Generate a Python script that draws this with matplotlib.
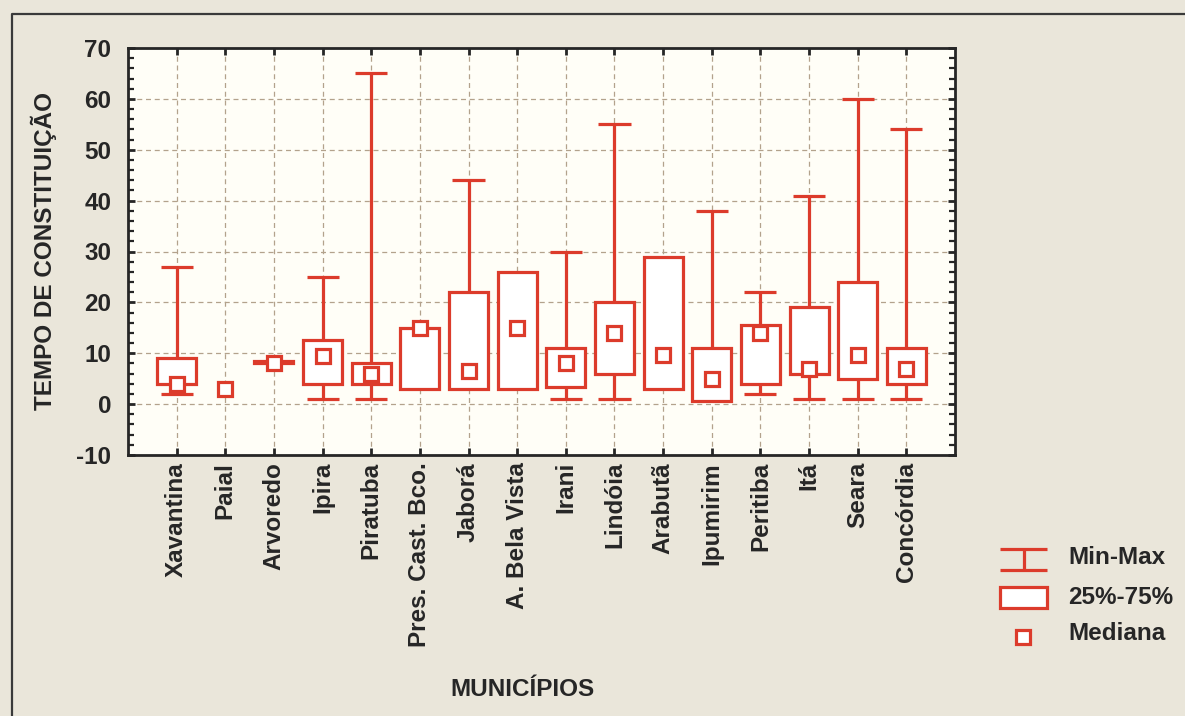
import matplotlib
matplotlib.use("Agg")
import matplotlib.pyplot as plt
from matplotlib.patches import Rectangle
from matplotlib.ticker import MultipleLocator

plt.rcParams['font.family'] = ['Liberation Sans', 'DejaVu Sans']

# Tempo de constituição por município
municipios = ["Xavantina", "Paial", "Arvoredo", "Ipira", "Piratuba",
              "Pres. Cast. Bco.", "Jaborá", "A. Bela Vista", "Irani", "Lindóia",
              "Arabutã", "Ipumirim", "Peritiba", "Itá", "Seara", "Concórdia"]
minimo = [2, 3, 8, 1, 1, 3, 3, 3, 1, 1, 3, 0.7, 2, 1, 1, 1]
q25 = [4, 3, 8, 4, 4, 3, 3, 3, 3.3, 6, 3, 0.7, 4, 6, 5, 4]
mediana = [4, 3, 8, 9.4, 6, 15, 6.5, 15, 8, 14, 9.6, 5, 14, 7, 9.6, 7]
q75 = [9, 3, 8.4, 12.6, 8, 15, 22, 26, 11, 20, 29, 11, 15.6, 19, 24, 11]
maximo = [27, 3, 8.4, 25, 65, 15, 44, 26, 30, 55, 29, 38, 22, 41, 60, 54]
y_ticks = [-10, 0, 10, 20, 30, 40, 50, 60, 70]

RED = "#dc3b2b"
INK = "#262626"
W, H = 1185, 716

fig = plt.figure(figsize=(W / 100, H / 100), dpi=100)
fig.patch.set_facecolor("#eae6da")

# frame lines drawn in pixel units behind everything
ov = fig.add_axes([0, 0, 1, 1], zorder=-1)
ov.set_xlim(0, W)
ov.set_ylim(H, 0)
ov.axis("off")
ov.plot([12, 12, W], [H, 14, 14], color="#3a3a3a", lw=1.6)

ax = fig.add_axes([128 / W, 1 - 455 / H, (955 - 128) / W, (455 - 48) / H])
ax.set_facecolor("#fffef7")

pos = list(range(1, len(municipios) + 1))
ax.set_xlim(0, len(municipios) + 1)
ax.set_ylim(-10, 70)

lw = 2.3
for x, lo, a, m, b, hi in zip(pos, minimo, q25, mediana, q75, maximo):
    if hi > b:
        ax.vlines(x, b, hi, color=RED, lw=lw, zorder=3)
        ax.hlines(hi, x - 0.33, x + 0.33, color=RED, lw=lw, zorder=3)
    if lo < a:
        ax.vlines(x, lo, a, color=RED, lw=lw, zorder=3)
        ax.hlines(lo, x - 0.33, x + 0.33, color=RED, lw=lw, zorder=3)
    if b > a:
        ax.bar(x, b - a, bottom=a, width=0.8, facecolor="white",
               edgecolor=RED, lw=lw, zorder=4)
ax.plot(pos, mediana, ls="none", marker="s", markersize=10.5,
        markerfacecolor="white", markeredgecolor=RED, markeredgewidth=2.3,
        zorder=5)

ax.set_xticks(pos)
ax.set_xticklabels(municipios, rotation=90, fontsize=17.5, fontweight="bold",
                   color=INK)
ax.set_yticks(y_ticks)
ax.set_yticklabels([str(v) for v in y_ticks], fontsize=17.5, fontweight="bold",
                   color=INK)
ax.yaxis.set_minor_locator(MultipleLocator(2))
ax.tick_params(axis="both", which="both", direction="in", top=True,
               right=True, color=INK)
ax.tick_params(axis="both", which="major", length=5, width=2)
ax.tick_params(axis="y", which="minor", length=4, width=1.6)
ax.tick_params(axis="y", which="major", pad=12)
ax.tick_params(axis="x", which="major", pad=5)
for s in ax.spines.values():
    s.set_linewidth(2)
    s.set_color(INK)
ax.grid(True, which="major", color="#b3a28c", lw=0.9, ls=(0, (4, 3)))
ax.set_axisbelow(True)

ax.set_ylabel("TEMPO DE CONSTITUIÇÃO", fontsize=17.5, fontweight="bold",
              color=INK, labelpad=14)
fig.text(523 / W, 1 - 690 / H, "MUNICÍPIOS", fontsize=17.5, fontweight="bold",
         color=INK, ha="center", va="center")

# key
key = fig.add_axes([0, 0, 1, 1])
key.set_xlim(0, W)
key.set_ylim(H, 0)
key.axis("off")
key.hlines([549, 570], 1000, 1047, color=RED, lw=lw)
key.vlines(1023.5, 549, 570, color=RED, lw=lw)
key.add_patch(Rectangle((1000, 587), 47, 21, facecolor="white",
                        edgecolor=RED, lw=lw))
key.plot([1022.5], [636.5], marker="s", markersize=10.5,
         markerfacecolor="white", markeredgecolor=RED, markeredgewidth=2.3)
for ty, txt in [(557, "Min-Max"), (597, "25%-75%"), (634, "Mediana")]:
    key.text(1068, ty, txt, fontsize=17.5, fontweight="bold", color=INK,
             va="center", ha="left")

fig.savefig("out.png", dpi=100, facecolor=fig.get_facecolor())
